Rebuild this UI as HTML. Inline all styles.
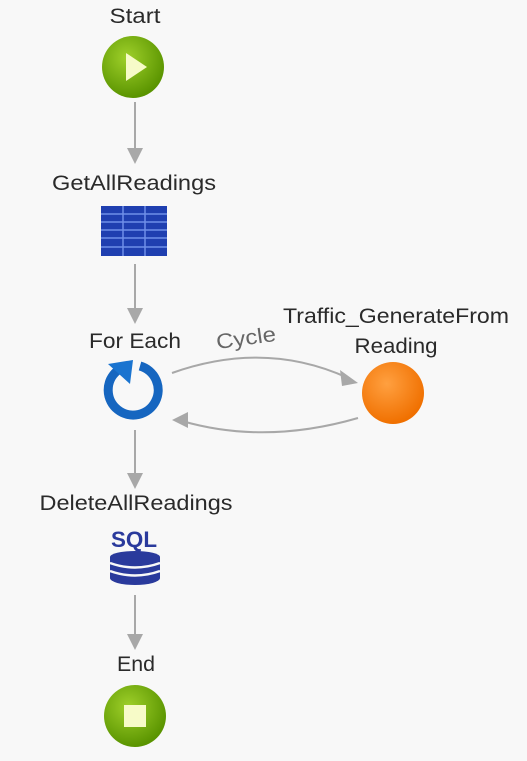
<!DOCTYPE html>
<html><head><style>
html,body{margin:0;padding:0;background:#f8f8f8;}
svg{display:block}
text{font-family:"Liberation Sans",sans-serif;font-size:21px;fill:#2a2a2a;text-anchor:middle}
</style></head><body>
<svg width="527" height="761" viewBox="0 0 527 761">
<defs>
<radialGradient id="g" cx="40%" cy="35%" r="65%"><stop offset="0" stop-color="#9fd02a"/><stop offset="1" stop-color="#5a9400"/></radialGradient>
<radialGradient id="o" cx="40%" cy="35%" r="65%"><stop offset="0" stop-color="#ffa040"/><stop offset="1" stop-color="#f07000"/></radialGradient>
</defs>
<g stroke="#a8a8a8" stroke-width="2" fill="none">
<line x1="135" y1="102" x2="135" y2="150"/>
<line x1="135" y1="264" x2="135" y2="310"/>
<line x1="135" y1="430" x2="135" y2="475"/>
<line x1="135" y1="595" x2="135" y2="636"/>
<path d="M172 373 Q265 340 348 378"/>
<path d="M358 418 Q265 445 182 421"/>
</g>
<g fill="#a8a8a8">
<polygon points="127,148 143,148 135,164"/>
<polygon points="127,308 143,308 135,324"/>
<polygon points="127,473 143,473 135,489"/>
<polygon points="127,634 143,634 135,650"/>
<polygon points="340,370 358,383 342,386"/>
<polygon points="172,420 188,412 188,428"/>
</g>
<text x="135" y="23" textLength="51" lengthAdjust="spacingAndGlyphs">Start</text>
<circle cx="133" cy="67" r="31" fill="url(#g)"/>
<polygon points="126,53 126,81 147,67" fill="#f7fbc8"/>
<text x="134" y="190" textLength="164" lengthAdjust="spacingAndGlyphs">GetAllReadings</text>
<rect x="101" y="206" width="66" height="50" fill="#1f3fb0"/>
<g stroke="#6f8fe8" stroke-width="1.5">
<line x1="101" y1="214" x2="167" y2="214"/><line x1="101" y1="222" x2="167" y2="222"/><line x1="101" y1="230" x2="167" y2="230"/><line x1="101" y1="238" x2="167" y2="238"/><line x1="101" y1="247" x2="167" y2="247"/>
<line x1="123" y1="206" x2="123" y2="256"/><line x1="145" y1="206" x2="145" y2="256"/>
</g>
<text x="135" y="348" textLength="92" lengthAdjust="spacingAndGlyphs">For Each</text>
<text x="246" y="345" transform="rotate(-8 246 338)" style="fill:#666" textLength="60" lengthAdjust="spacingAndGlyphs">Cycle</text>
<text x="396" y="323" textLength="226" lengthAdjust="spacingAndGlyphs">Traffic_GenerateFrom</text>
<text x="396" y="353" textLength="83" lengthAdjust="spacingAndGlyphs">Reading</text>
<path d="M117 371 A25 25 0 1 0 140 366" stroke="#1666c0" stroke-width="9" fill="none"/>
<polygon points="108,364 133,360 130,384" fill="#1a74d0"/>
<circle cx="393" cy="393" r="31" fill="url(#o)"/>
<text x="136" y="510" textLength="193" lengthAdjust="spacingAndGlyphs">DeleteAllReadings</text>
<text x="134" y="547" style="font-size:22px;font-weight:bold;fill:#2a3a9c" textLength="46" lengthAdjust="spacingAndGlyphs">SQL</text>
<ellipse cx="135" cy="578" rx="25" ry="7" fill="#2a3a9c"/>
<rect x="110" y="557" width="50" height="21" fill="#2a3a9c"/>
<ellipse cx="135" cy="557" rx="25" ry="6" fill="#2a3a9c"/>
<path d="M110 563 Q135 572 160 563" stroke="#f8f8f8" stroke-width="2.5" fill="none"/>
<path d="M110 571 Q135 580 160 571" stroke="#f8f8f8" stroke-width="2.5" fill="none"/>
<text x="136" y="671" textLength="38" lengthAdjust="spacingAndGlyphs">End</text>
<circle cx="135" cy="716" r="31" fill="url(#g)"/>
<rect x="124" y="705" width="22" height="22" fill="#f7fbc8"/>
</svg>
</body></html>
